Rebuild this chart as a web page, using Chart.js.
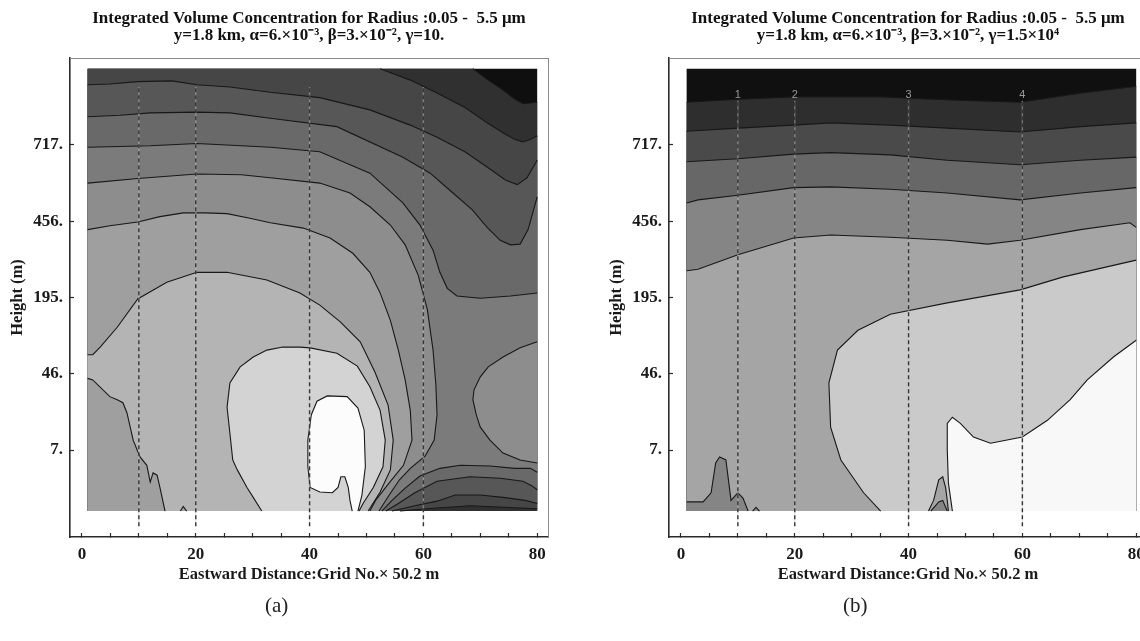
<!DOCTYPE html>
<html>
<head>
<meta charset="utf-8">
<script src="https://cdn.jsdelivr.net/npm/chart.js@4.4.0/dist/chart.umd.min.js"></script>
<style>
  html, body { margin: 0; padding: 0; background: #fff; }
  body { width: 1140px; height: 641px; overflow: hidden; position: relative; }
  .panel { position: absolute; top: 0; }
  .tag { position: absolute; top: 593px; font: 21px "Liberation Serif", serif; color: #222; }
</style>
</head>
<body>
<canvas id="chartA" class="panel" width="570" height="641" style="left:0"></canvas>
<canvas id="chartB" class="panel" width="570" height="641" style="left:599px"></canvas>
<div class="tag" style="left:265px">(a)</div>
<div class="tag" style="left:843px">(b)</div>
<script>
// axes: grid number along x, vertical grid level along y (labelled with height in m)
const gridTicksX = [0, 5, 10, 15, 20, 25, 30, 35, 40, 45, 50, 55, 60, 65, 70, 75, 80];
const heightIdx = [10, 20, 30, 40, 50];
const heightLabels = ['7.', '46.', '195.', '456.', '717.'];
const transectX = [10, 20, 40, 60];
const transectNames = ['1', '2', '3', '4'];

// ---- (a) gamma = 10 : contour lines, [grid x, level y] ----
const aBlack = [[68.7,60],[71.4,58.5],[74.0,57.2],[76.1,56.0],[77.5,55.4],[80,55.6]];
const aC2 = [[52.4,60],[57.7,58.5],[62.4,56.8],[67.3,54.9],[71.2,52.9],[74.4,51.4],[76.1,50.7],[77.5,50.4],[78.8,50.7],[80,51.2]];
const aC3 = [[1,57.9],[4.9,58.0],[9.8,58.3],[15.8,58.4],[20.2,57.9],[26.0,57.6],[33.1,56.9],[41.8,56.2],[50.6,54.6],[57.7,52.6],[62.4,51.0],[67.3,49.1],[71.2,47.1],[74.4,45.4],[76.5,44.8],[78.2,45.7],[80,48.0]];
const aC4 = [[1,53.7],[6.7,53.9],[12.0,54.2],[20.2,54.3],[26.0,54.2],[33.1,53.5],[44.8,52.4],[56.4,48.4],[61.2,46.3],[65.2,43.7],[68.6,41.5],[71.2,39.2],[73.5,37.5],[75.3,36.9],[77.0,37.0],[78.4,38.9],[80,43.2]];
const aC5 = [[1,49.7],[12.0,49.9],[20.2,50.2],[28.0,49.9],[33.1,49.7],[41.8,49.1],[50.6,46.3],[56.4,42.4],[59.4,39.5],[61.7,36.2],[62.9,33.3],[64.2,31.2],[65.9,30.2],[70.0,29.9],[75.3,30.2],[80,30.6]];
const aC6 = [[1,45.0],[9.8,45.6],[20.2,46.2],[28.0,46.1],[33.1,45.7],[41.8,45.0],[47.1,43.7],[50.6,41.9],[54.2,39.5],[56.8,36.9],[59.1,32.9],[60.7,28.4],[61.7,23.1],[62.2,18.5],[62.4,14.6],[61.9,11.3],[60.3,9.2],[57.7,7.6],[55.8,6.1],[54.0,4.1],[52.2,2]];
const aOval = [[80,24.2],[77.0,23.4],[74.0,22.2],[71.4,20.9],[70.0,19.6],[68.9,17.9],[68.7,16.6],[69.3,14.6],[70.0,13.0],[71.7,11.3],[74.0,9.6],[77.0,8.7],[80,8.3]];
const aC7 = [[1,38.9],[4.9,39.4],[9.8,39.9],[13.7,40.6],[17.8,41.1],[21.6,41.1],[25.5,41.0],[29.5,40.4],[33.1,39.8],[38.9,39.1],[43.6,37.8],[47.6,35.8],[50.6,33.3],[52.4,30.6],[54.2,27.0],[55.6,23.1],[56.8,19.2],[57.7,15.2],[58.0,11.3],[56.5,8.0],[54.0,5.7],[51.6,3.4],[50.6,2]];
const aC8 = [[1,22.5],[1.9,22.5],[3.2,23.5],[6.2,26.1],[9.8,29.8],[14.9,32.0],[20.2,33.3],[25.5,33.3],[32.5,32.3],[38.3,30.6],[41.8,29.0],[45.4,26.8],[48.9,24.2],[51.5,20.2],[53.8,15.9],[54.7,11.3],[54.2,7.4],[52.4,4.5],[50.3,2]];
const aC8low = [[1,19.4],[1.9,19.2],[4.9,17.0],[6.2,16.6],[7.2,16.2],[7.9,14.9],[9.0,11.3],[9.7,10.0],[10.2,9.1],[11.4,8.0],[12.0,5.8],[12.5,7.0],[13.2,6.7],[13.7,5.1],[14.6,2]];
const aNub = [[17.3,2],[17.8,2.6],[18.4,2]];
const aC9 = [[31.6,2],[30.1,3.8],[29.0,5.1],[27.3,7.4],[26.5,8.7],[26.0,12.2],[25.5,15.6],[26.0,18.8],[27.8,20.9],[30.1,22.2],[32.5,23.1],[35.3,23.5],[38.3,23.5],[40.1,23.4],[44.8,22.7],[48.4,21.0],[50.6,18.3],[52.4,15.2],[53.3,11.3],[52.9,7.8],[51.2,5.1],[49.4,3.0],[48.7,2]];
const aC10 = [[47.5,2],[47.1,3.4],[46.8,5.1],[46.2,6.5],[45.5,6.5],[45.0,5.1],[44.0,4.4],[41.8,4.5],[40.1,5.1],[39.7,7.8],[39.7,11.3],[40.3,14.6],[41.3,16.4],[43.1,17.1],[46.6,17.0],[48.5,15.5],[49.6,12.6],[49.8,7.8],[49.2,4.1],[48.5,2]];
// low-concentration pocket near the ground, east side
const aP5 = [[52.7,2],[54.5,3.4],[56.8,5.0],[59.4,6.6],[62.9,7.6],[66.5,8.0],[71.7,7.9],[76.1,7.6],[78.8,7.6],[80,7.1]];
const aP4 = [[53.4,2],[55.6,3.0],[58.5,4.4],[62.4,5.9],[68.2,6.5],[73.5,6.3],[77.5,5.9],[79.1,5.3],[80,4.8]];
const aP3 = [[54.5,2],[58.5,2.7],[62.4,3.3],[65.6,4.1],[70.0,4.1],[74.0,3.8],[77.9,3.4],[80,3.0]];
const aP2 = [[55.9,2],[62.4,2.4],[68.2,2.7],[74.0,2.5],[80,2.3]];
const aShades = ['#0f0f0f','#303030','#464646','#575757','#696969','#7b7b7b','#8d8d8d','#9f9f9f','#b4b4b4','#d3d3d3','#fcfcfc'];

// ---- (b) gamma = 1.5e4 ----
const bBlack = [[1,55.6],[10,56.0],[19.8,56.3],[29.8,56.3],[35.1,56.3],[47.4,55.9],[59.6,55.6],[70.2,56.8],[80,57.7]];
const bC2 = [[1,51.8],[10,52.2],[19.8,52.6],[26.3,52.9],[36.8,52.6],[46.8,52.2],[59.6,51.7],[70.2,52.4],[80,52.9]];
const bC3 = [[1,47.8],[10,48.2],[19.8,48.8],[26.3,49.0],[36.8,48.7],[46.8,48.0],[59.6,47.4],[70.2,48.0],[80,48.4]];
const bC4 = [[1,42.4],[3.0,42.8],[10,43.4],[19.8,44.4],[26.3,44.5],[36.8,44.2],[46.8,43.7],[59.6,42.8],[70.2,43.7],[80,44.4]];
const bC5 = [[1,33.5],[3.0,33.7],[10,35.6],[19.8,37.8],[26.3,38.2],[36.8,37.9],[46.8,37.5],[53.9,37.0],[59.6,37.5],[70.2,38.9],[78.9,39.8],[80,39.2]];
const bC6 = [[35.1,2],[32.1,4.4],[28.1,8.7],[26.3,13.0],[26.0,18.8],[27.5,23.1],[31.1,25.7],[36.8,27.8],[46.8,29.3],[59.6,31.0],[67.2,32.7],[80,34.9]];
const bC7 = [[47.7,2],[47.0,5.7],[46.8,10.0],[46.8,13.5],[47.7,14.3],[49.1,13.5],[51.4,11.7],[54.4,10.9],[60.0,11.7],[64.4,13.9],[68.4,16.6],[71.4,19.2],[76.0,22.2],[80,24.4]];
const bBump = [[43.5,2],[44.4,3.4],[45.3,6.1],[46.0,6.5],[46.5,5.1],[46.8,3.4],[47.0,2]];
const bBumpCore = [[43.9,2],[45.3,3.2],[46.0,3.4],[46.8,2]];
const bLowLeft = [[1,3.2],[3.9,3.2],[5.3,4.4],[6.1,8.3],[6.8,9.1],[7.9,8.7],[8.8,3.4],[10.0,4.4],[10.9,3.7],[11.8,2]];
const bNub = [[12.6,2],[13.2,2.5],[13.8,2]];
const bShades = ['#101010','#2e2e2e','#4a4a4a','#676767','#858585','#a5a5a5','#cacaca','#f8f8f8'];

// plotted field occupies grid 1..80 by level 2..60
const X0 = 1, X1 = 80, Y0 = 2, Y1 = 60;
const rev = pts => pts.slice().reverse();

const transectLabels = {
  id: 'transectLabels',
  afterDatasetsDraw(chart, args, opts) {
    if (!opts || !opts.names) return;
    const { ctx, scales: { x, y } } = chart;
    ctx.save();
    ctx.font = '11px "Liberation Sans"';
    ctx.fillStyle = 'rgba(185,185,185,0.8)';
    ctx.textAlign = 'center';
    ctx.textBaseline = 'middle';
    transectX.forEach((v, i) => ctx.fillText(opts.names[i], x.getPixelForValue(v), y.getPixelForValue(opts.at)));
    ctx.restore();
  }
};

const serif = 'Liberation Serif';
const tickFont = { family: serif, size: 17, weight: 'bold' };
const axisFont = { family: serif, size: 16.5, weight: 'bold' };
const ink = '#1a1a1a';

function buildChart(id, titleLines, areas, lines, transectTop, labelOpts) {
  const datasets = [];
  const xy = pts => pts.map(([x, y]) => ({ x, y }));
  areas.forEach(([pts, color]) => datasets.push({
    data: xy(pts), showLine: true, fill: 'shape', backgroundColor: color,
    borderWidth: 0, pointRadius: 0, tension: 0
  }));
  lines.forEach(pts => datasets.push({
    data: xy(pts), showLine: true, fill: false, borderColor: '#181818',
    borderWidth: 1.1, pointRadius: 0, tension: 0
  }));
  transectX.forEach(v => {
    const seg = [{ x: v, y: 0 }, { x: v, y: transectTop }];
    datasets.push({ data: seg, showLine: true, fill: false, borderColor: 'rgba(205,205,205,0.45)', borderWidth: 1.4, pointRadius: 0 });
    datasets.push({ data: seg, showLine: true, fill: false, borderColor: '#353535', borderWidth: 1.4, borderDash: [4, 3], pointRadius: 0 });
  });
  // first in the list is painted first
  datasets.forEach((d, i) => { d.order = datasets.length - i; });

  const frame = { color: '#2b2b2b', width: 1.6 };
  return new Chart(document.getElementById(id), {
    type: 'scatter',
    data: { datasets },
    options: {
      responsive: false,
      animation: false,
      events: [],
      layout: { padding: { left: 0, right: 22, top: 0, bottom: 0 } },
      plugins: {
        legend: { display: false },
        tooltip: { enabled: false },
        title: {
          display: true, fullSize: false, text: titleLines, color: '#111',
          font: { family: serif, size: 17, weight: 'bold', lineHeight: 1 },
          padding: { top: 10, bottom: 14 }
        },
        transectLabels: labelOpts
      },
      scales: {
        x: {
          type: 'linear', min: -2.1, max: 81.9,
          afterBuildTicks: s => { s.ticks = gridTicksX.map(v => ({ value: v })); },
          afterFit: s => { s.height = 104; },
          border: frame,
          grid: { drawOnChartArea: false, drawTicks: true, tickLength: -4, color: '#2b2b2b', tickWidth: 1.2 },
          ticks: { font: tickFont, color: ink, padding: 11, maxRotation: 0, autoSkip: false,
                   callback: v => (v % 20 === 0 ? String(v) : '') },
          title: { display: true, text: 'Eastward Distance:Grid No.\u00d7 50.2 m', font: axisFont, color: ink,
                   padding: { top: 0, bottom: 56 } }
        },
        y: {
          type: 'linear', min: -1.4, max: 61.4,
          afterBuildTicks: s => { s.ticks = heightIdx.map(v => ({ value: v })); },
          afterFit: s => { s.width = 70; },
          border: frame,
          grid: { drawOnChartArea: false, drawTicks: true, tickLength: -4, color: '#2b2b2b', tickWidth: 1.2 },
          ticks: { font: tickFont, color: ink, padding: 11, autoSkip: false,
                   callback: v => heightLabels[heightIdx.indexOf(v)] },
          title: { display: true, text: 'Height (m)', font: axisFont, color: ink, padding: { top: 8, bottom: 0 } }
        },
        xTop: {
          type: 'linear', position: 'top', min: -2.1, max: 81.9,
          grid: { display: false, drawTicks: false }, ticks: { display: false },
          border: { display: true, color: '#8a8a8a', width: 1 },
          afterFit: s => { s.height = 0; }
        },
        yRight: {
          type: 'linear', position: 'right', min: -1.4, max: 61.4,
          grid: { display: false, drawTicks: false }, ticks: { display: false },
          border: { display: true, color: '#8a8a8a', width: 1 },
          afterFit: s => { s.width = 0; }
        }
      }
    },
    plugins: [transectLabels]
  });
}

const rect = [[X0, Y0], [X0, Y1], [X1, Y1], [X1, Y0]];

buildChart('chartA',
  ['Integrated Volume Concentration for Radius :0.05 -  5.5 \u03bcm',
   'y=1.8 km, \u03b1=6.\u00d710\u207b\u00b3, \u03b2=3.\u00d710\u207b\u00b2, \u03b3=10.'],
  [
    [rect, aShades[0]],
    [[[X0, Y0], [X0, Y1], ...aBlack, [X1, Y0]], aShades[1]],
    [[[X0, Y0], [X0, Y1], ...aC2, ...rev(aP2)], aShades[2]],
    [[[X0, Y0], ...aC3, ...rev(aP3)], aShades[3]],
    [[[X0, Y0], ...aC4, ...rev(aP4)], aShades[4]],
    [[[X0, Y0], ...aC5, ...rev(aP5)], aShades[5]],
    [[[X0, Y0], ...aC6], aShades[6]],
    [aOval, aShades[6]],
    [[[X0, Y0], ...aC7], aShades[7]],
    [[...aC8, ...rev(aC8low)], aShades[8]],
    [aNub, aShades[7]],
    [aC9, aShades[9]],
    [aC10, aShades[10]]
  ],
  [aBlack, aC2, aC3, aC4, aC5, aC6, aOval, aC7, aC8, aC8low, aNub, aC9, aC10, aP5, aP4, aP3, aP2],
  57.6, {});

buildChart('chartB',
  ['Integrated Volume Concentration for Radius :0.05 -  5.5 \u03bcm',
   'y=1.8 km, \u03b1=6.\u00d710\u207b\u00b3, \u03b2=3.\u00d710\u207b\u00b2, \u03b3=1.5\u00d710\u2074'],
  [
    [rect, bShades[0]],
    [[[X0, Y0], ...bBlack, [X1, Y0]], bShades[1]],
    [[[X0, Y0], ...bC2, [X1, Y0]], bShades[2]],
    [[[X0, Y0], ...bC3, [X1, Y0]], bShades[3]],
    [[[X0, Y0], ...bC4, [X1, Y0]], bShades[4]],
    [[[X0, Y0], ...bC5, [X1, Y0]], bShades[5]],
    [[...bC6, [X1, Y0]], bShades[6]],
    [[...bC7, [X1, Y0]], bShades[7]],
    [bBump, bShades[5]],
    [bBumpCore, bShades[4]],
    [[[X0, Y0], ...bLowLeft], bShades[4]],
    [bNub, bShades[4]]
  ],
  [bBlack, bC2, bC3, bC4, bC5, bC6, bC7, bBump, bBumpCore, bLowLeft, bNub],
  55.8, { names: transectNames, at: 56.6 });
</script>
</body>
</html>
